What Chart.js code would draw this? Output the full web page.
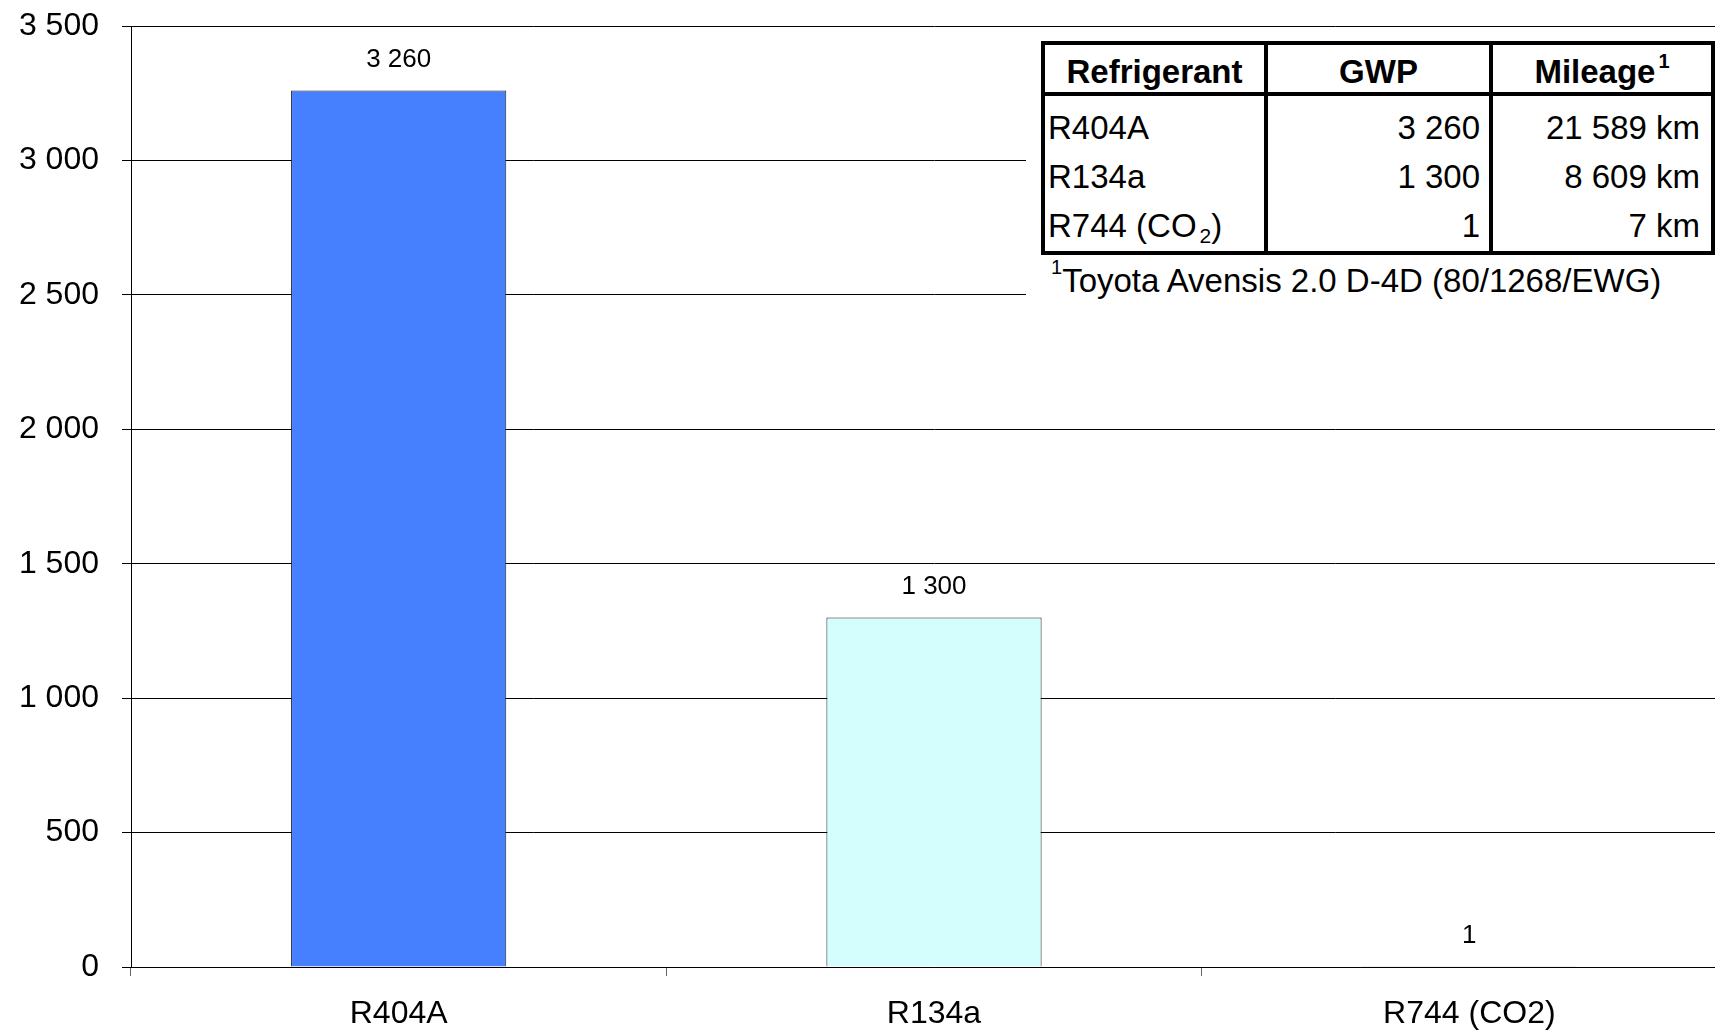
<!DOCTYPE html>
<html>
<head>
<meta charset="utf-8">
<title>GWP of refrigerants</title>
<script src="https://cdn.jsdelivr.net/npm/chart.js@4/dist/chart.umd.min.js"></script>
<style>
  html, body { margin: 0; padding: 0; background: #fff; overflow: hidden; width: 1715px; height: 1033px; }
  #wrap { position: absolute; left: 0; top: 0; width: 1737px; height: 1033px; }
  canvas { display: block; }
  .bg { position: absolute; background: #fff; }
  .ln { position: absolute; background: #000; }
  .cell { position: absolute; font-family: "Liberation Sans", Arial, sans-serif; font-size: 33px; line-height: 49px; color: #000; white-space: nowrap; }
  .hd { font-weight: bold; text-align: center; }
  .num { text-align: right; }
  .sup-h { font-size: 20px; vertical-align: 15px; line-height: 0; margin-left: 3px; }
  .sub { font-size: 21px; vertical-align: -6px; line-height: 0; margin-left: 3px; }
  .sup-f { font-size: 20px; vertical-align: 18px; line-height: 0; }
</style>
</head>
<body>
<div id="wrap"><canvas id="chart" width="1737" height="1033"></canvas></div>
<div id="table"></div>
<script>
// Global warming potential per refrigerant
const categories = ['R404A', 'R134a', 'R744 (CO2)'];
const gwpValues = [3260, 1300, 1];
const barColors = ['#4680FF', '#D4FDFD', '#FFFFCC'];
const yMin = 0;
const yMax = 3500;
const yStep = 500;

// Table beside the bars
const tableHeaders = ['Refrigerant', 'GWP', 'Mileage'];
const tableNames = ['R404A', 'R134a', 'R744 (CO|2|)'];
const tableMileageKm = [21589, 8609, 7];
const footnoteText = 'Toyota Avensis 2.0 D-4D (80/1268/EWG)';

function fmt(n) {
  return String(n).replace(/\B(?=(\d{3})+(?!\d))/g, ' ');
}

const FONT = '"Liberation Sans", Arial, sans-serif';

// value labels above each bar
const valueLabels = {
  id: 'valueLabels',
  afterDatasetsDraw(chart) {
    const ctx = chart.ctx;
    const meta = chart.getDatasetMeta(0);
    ctx.save();
    ctx.font = '26px ' + FONT;
    ctx.fillStyle = '#000';
    ctx.textAlign = 'center';
    ctx.textBaseline = 'middle';
    meta.data.forEach((bar, i) => {
      ctx.fillText(fmt(gwpValues[i]), bar.x, bar.y - 31);
    });
    ctx.restore();
  }
};

new Chart(document.getElementById('chart'), {
  type: 'bar',
  data: {
    labels: categories,
    datasets: [{
      data: gwpValues,
      backgroundColor: barColors,
      borderColor: '#222',
      borderWidth: 1,
      categoryPercentage: 1,
      barPercentage: 0.402
    }]
  },
  options: {
    responsive: false,
    devicePixelRatio: 1,
    animation: false,
    layout: { padding: { top: 26, right: 0, left: 0, bottom: 0 } },
    plugins: { legend: { display: false }, tooltip: { enabled: false } },
    scales: {
      x: {
        afterFit(s) { s.height = 66; s.paddingLeft = 0; s.paddingRight = 0; },
        grid: { display: true, drawOnChartArea: false, drawTicks: true, tickLength: 9, color: '#666', offset: true },
        border: { display: true, color: '#000', width: 1 },
        ticks: { color: '#000', font: { family: FONT, size: 32 }, padding: 19, maxRotation: 0, autoSkip: false }
      },
      y: {
        min: yMin,
        max: yMax,
        afterFit(s) { s.width = 131; s.paddingTop = 0; s.paddingBottom = 0; },
        grid: { color: '#000', lineWidth: 1, tickLength: 9, drawTicks: true },
        border: { display: true, color: '#000', width: 1 },
        ticks: {
          stepSize: yStep,
          color: '#000',
          padding: 23,
          font: { family: FONT, size: 32 },
          callback: (v) => fmt(v)
        }
      }
    }
  },
  plugins: [valueLabels]
});

// build the refrigerant table
(function buildTable() {
  const root = document.getElementById('table');
  const colEdges = [1041, 1264, 1489, 1711];
  const lw = 4;
  const top = 41, headBottom = 92, bottom = 255;
  const add = (cls, style, html) => {
    const d = document.createElement('div');
    d.className = cls;
    Object.assign(d.style, style);
    if (html !== undefined) d.innerHTML = html;
    root.appendChild(d);
    return d;
  };
  // white panel under the table and its footnote
  add('bg', { left: '1026px', top: '34px', width: '689px', height: '272px' });
  // frame
  add('ln', { left: colEdges[0] + 'px', top: top + 'px', width: (colEdges[3] + lw - colEdges[0]) + 'px', height: lw + 'px' });
  add('ln', { left: colEdges[0] + 'px', top: (bottom - lw) + 'px', width: (colEdges[3] + lw - colEdges[0]) + 'px', height: lw + 'px' });
  add('ln', { left: colEdges[0] + 'px', top: headBottom + 'px', width: (colEdges[3] + lw - colEdges[0]) + 'px', height: lw + 'px' });
  colEdges.forEach(x => add('ln', { left: x + 'px', top: top + 'px', width: lw + 'px', height: (bottom - top) + 'px' }));

  // header row
  tableHeaders.forEach((h, i) => {
    const l = colEdges[i] + lw, w = colEdges[i + 1] - l;
    const html = i === 2 ? h + '<span class="sup-h">1</span>' : h;
    add('cell hd', { left: l + 'px', width: w + 'px', top: '47px' }, html);
  });

  // body rows
  const rowTops = [103, 152, 201];
  tableNames.forEach((name, r) => {
    const parts = name.split('|');
    const nameHtml = parts.length === 3 ? parts[0] + '<span class="sub">' + parts[1] + '</span>' + parts[2] : name;
    add('cell', { left: (colEdges[0] + lw + 3) + 'px', top: rowTops[r] + 'px' }, nameHtml);
    const l2 = colEdges[1] + lw, w2 = colEdges[2] - l2 - 9;
    add('cell num', { left: l2 + 'px', width: w2 + 'px', top: rowTops[r] + 'px' }, fmt(gwpValues[r]));
    const l3 = colEdges[2] + lw, w3 = colEdges[3] - l3 - 11;
    add('cell num', { left: l3 + 'px', width: w3 + 'px', top: rowTops[r] + 'px' }, fmt(tableMileageKm[r]) + ' km');
  });

  // footnote
  add('cell', { left: '1051px', top: '256px' }, '<span class="sup-f">1</span>' + footnoteText);
})();
</script>
</body>
</html>
